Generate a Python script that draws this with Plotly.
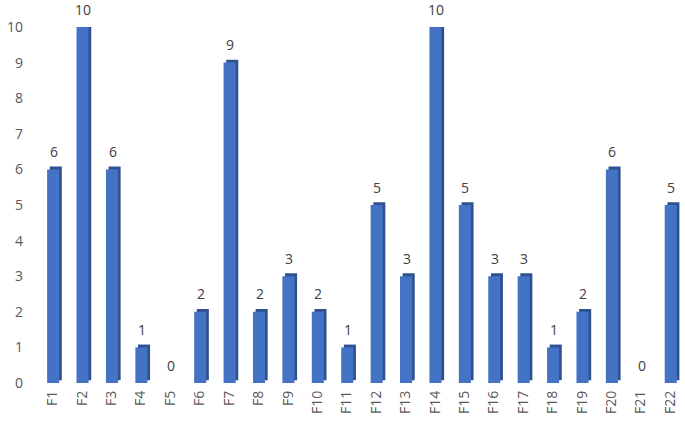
import plotly.graph_objects as go

# categorias e valores
categorias = [f"F{i}" for i in range(1, 23)]
valores = [6, 10, 6, 1, 0, 2, 9, 2, 3, 2, 1, 5, 3, 10, 5, 3, 3, 1, 2, 6, 0, 5]
ticks_y = list(range(0, 11))

FONTE = "Open Sans, Liberation Sans, sans-serif"
AZUL = "#4472C4"
AZUL_ESCURO = "#2F528F"

fig = go.Figure()

# face lateral (efeito 3D)
fig.add_trace(go.Bar(
    x=categorias, y=valores, base=0.08,
    offset=-0.1, width=0.41,
    marker=dict(color=AZUL_ESCURO, line=dict(width=0)),
    hoverinfo="skip", showlegend=False,
))

# face frontal
fig.add_trace(go.Bar(
    x=categorias, y=valores,
    offset=-0.19, width=0.41,
    marker=dict(color=AZUL, line=dict(width=0)),
    showlegend=False,
))

# rótulos de dados acima das barras
for cat, v in zip(categorias, valores):
    fig.add_annotation(
        x=cat, y=v, text=str(v), showarrow=False,
        yanchor="middle", yshift=18, xshift=1,
        font=dict(family=FONTE, size=14, color="#404040"),
    )

fig.update_layout(
    barmode="overlay",
    width=685, height=426,
    margin=dict(l=38, r=0, t=27, b=43),
    paper_bgcolor="white", plot_bgcolor="white",
    font=dict(family=FONTE, color="#595959", size=14),
)
fig.update_xaxes(
    tickangle=-90, showgrid=False, showline=False, zeroline=False,
    ticks="", automargin=False, ticklabelstandoff=4,
    tickfont=dict(size=14, color="#595959"),
)
fig.update_yaxes(
    range=[0, 10], tickvals=ticks_y, showgrid=False, showline=False,
    zeroline=False, ticks="", automargin=False, ticklabelstandoff=14,
    tickfont=dict(size=14, color="#595959"),
)

# tira a margem padrão do body para o gráfico ocupar a janela toda
fig.write_html(
    "out.html",
    config={"displayModeBar": False},
    post_script="document.body.style.margin='0';",
)
